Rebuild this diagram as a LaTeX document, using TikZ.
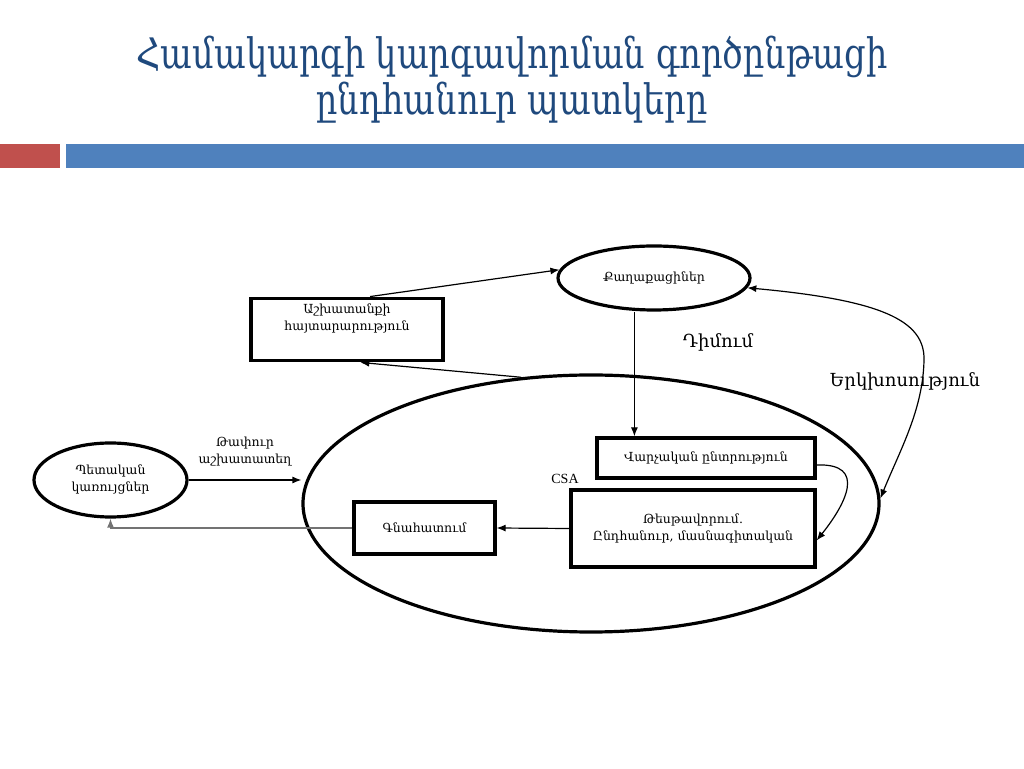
\documentclass[tikz,border=0pt]{standalone}
\usepackage{fontspec}
\setmainfont{DejaVu Serif}
\newfontfamily\titlefont[FakeStretch=0.8]{DejaVu Serif}
\newfontfamily\latinfont{Liberation Serif}
\usetikzlibrary{calc,arrows.meta,shapes.geometric}
\definecolor{titleblue}{RGB}{31,73,125}
\definecolor{barred}{RGB}{192,80,77}
\definecolor{barblue}{RGB}{79,129,189}
\tikzset{
  tbox/.style={rectangle, draw, line width=3.2pt, fill=white, align=center, font=\fontsize{12.5}{17}\selectfont},
  tell/.style={ellipse, draw, line width=3.2pt, fill=white, align=center, inner sep=0pt, font=\fontsize{12.5}{17}\selectfont},
  arr/.style={-{Latex[length=9pt,width=7pt]}, line width=1.2pt},
  darr/.style={{Latex[length=9pt,width=7pt]}-{Latex[length=9pt,width=7pt]}, line width=1.2pt},
  lbl/.style={font=\fontsize{18}{22}\selectfont},
  slbl/.style={font=\fontsize{12.5}{17}\selectfont, align=center},
}

\begin{document}
\begin{tikzpicture}[x=1pt, y=1pt]
  \useasboundingbox (0,0) rectangle (1024,768);

  % Title and bars
  \node[font=\titlefont\fontsize{42}{46}\selectfont, text=titleblue, align=center] (title) at (512,688)
    {Համակարգի կարգավորման գործընթացի\\ընդհանուր պատկերը};
  \fill[barred] (0,600) rectangle (60,624);
  \fill[barblue] (66,600) rectangle (1024,624);

  \node[tell, minimum width=576pt, minimum height=257pt] (org) at (591,264.5) {};

  \node[tell, minimum width=192pt, minimum height=64pt] (cit) at (654,490) {Քաղաքացիներ};
  \node[tbox, minimum width=192pt, inner ysep=6pt, text depth=24pt] (ann) at (347,438.5)
    {Աշխատանքի\\հայտարարություն};
  \node[tbox, minimum width=218pt, minimum height=40pt] (sel) at (706,310) {Վարչական ընտրություն};
  \node[tbox, minimum width=244pt, minimum height=77pt] (test) at (693,239.5)
    {Թեսթավորում.\\Ընդհանուր, մասնագիտական};
  \node[tbox, minimum width=141pt, minimum height=52pt] (gna) at (424.5,240) {Գնահատում};
  \node[tell, minimum width=153pt, minimum height=74pt] (gov) at (110.5,288)
    {Պետական\\կառույցներ};

  \node[lbl] (dim) at (718,426) {Դիմում};
  \node[lbl] (dlg) at (905,387) {Երկխոսություն};
  \node[font=\latinfont\fontsize{14}{17}\selectfont] (csa) at (565,289) {CSA};

  \draw[arr] (ann.55) -- (cit.175);
  \draw[arr] (org.119) -- (ann.-68);
  \draw[arr] ([xshift=39pt]sel.north west |- cit.south) -- ([xshift=39pt]sel.north west);
  \draw[arr] ([yshift=-7pt]sel.east) .. controls (868,305) and (845,263) .. ([yshift=-12pt]test.east);
  \draw[arr] (test.west) -- (gna.east);
  \draw[arr, draw=black!55, line width=1.4pt] (gna.west) -| (gov.south);
  \draw[arr] (gov.east) -- (gov.east -| org.west)
    node[midway, above=10pt, slbl] {Թափուր\\աշխատատեղ};
  \draw[darr] (cit.-6) .. controls (880,468) and (925,448) .. (924,408)
    .. controls (923,358) and (900,318) .. (org.1);
\end{tikzpicture}
\end{document}
